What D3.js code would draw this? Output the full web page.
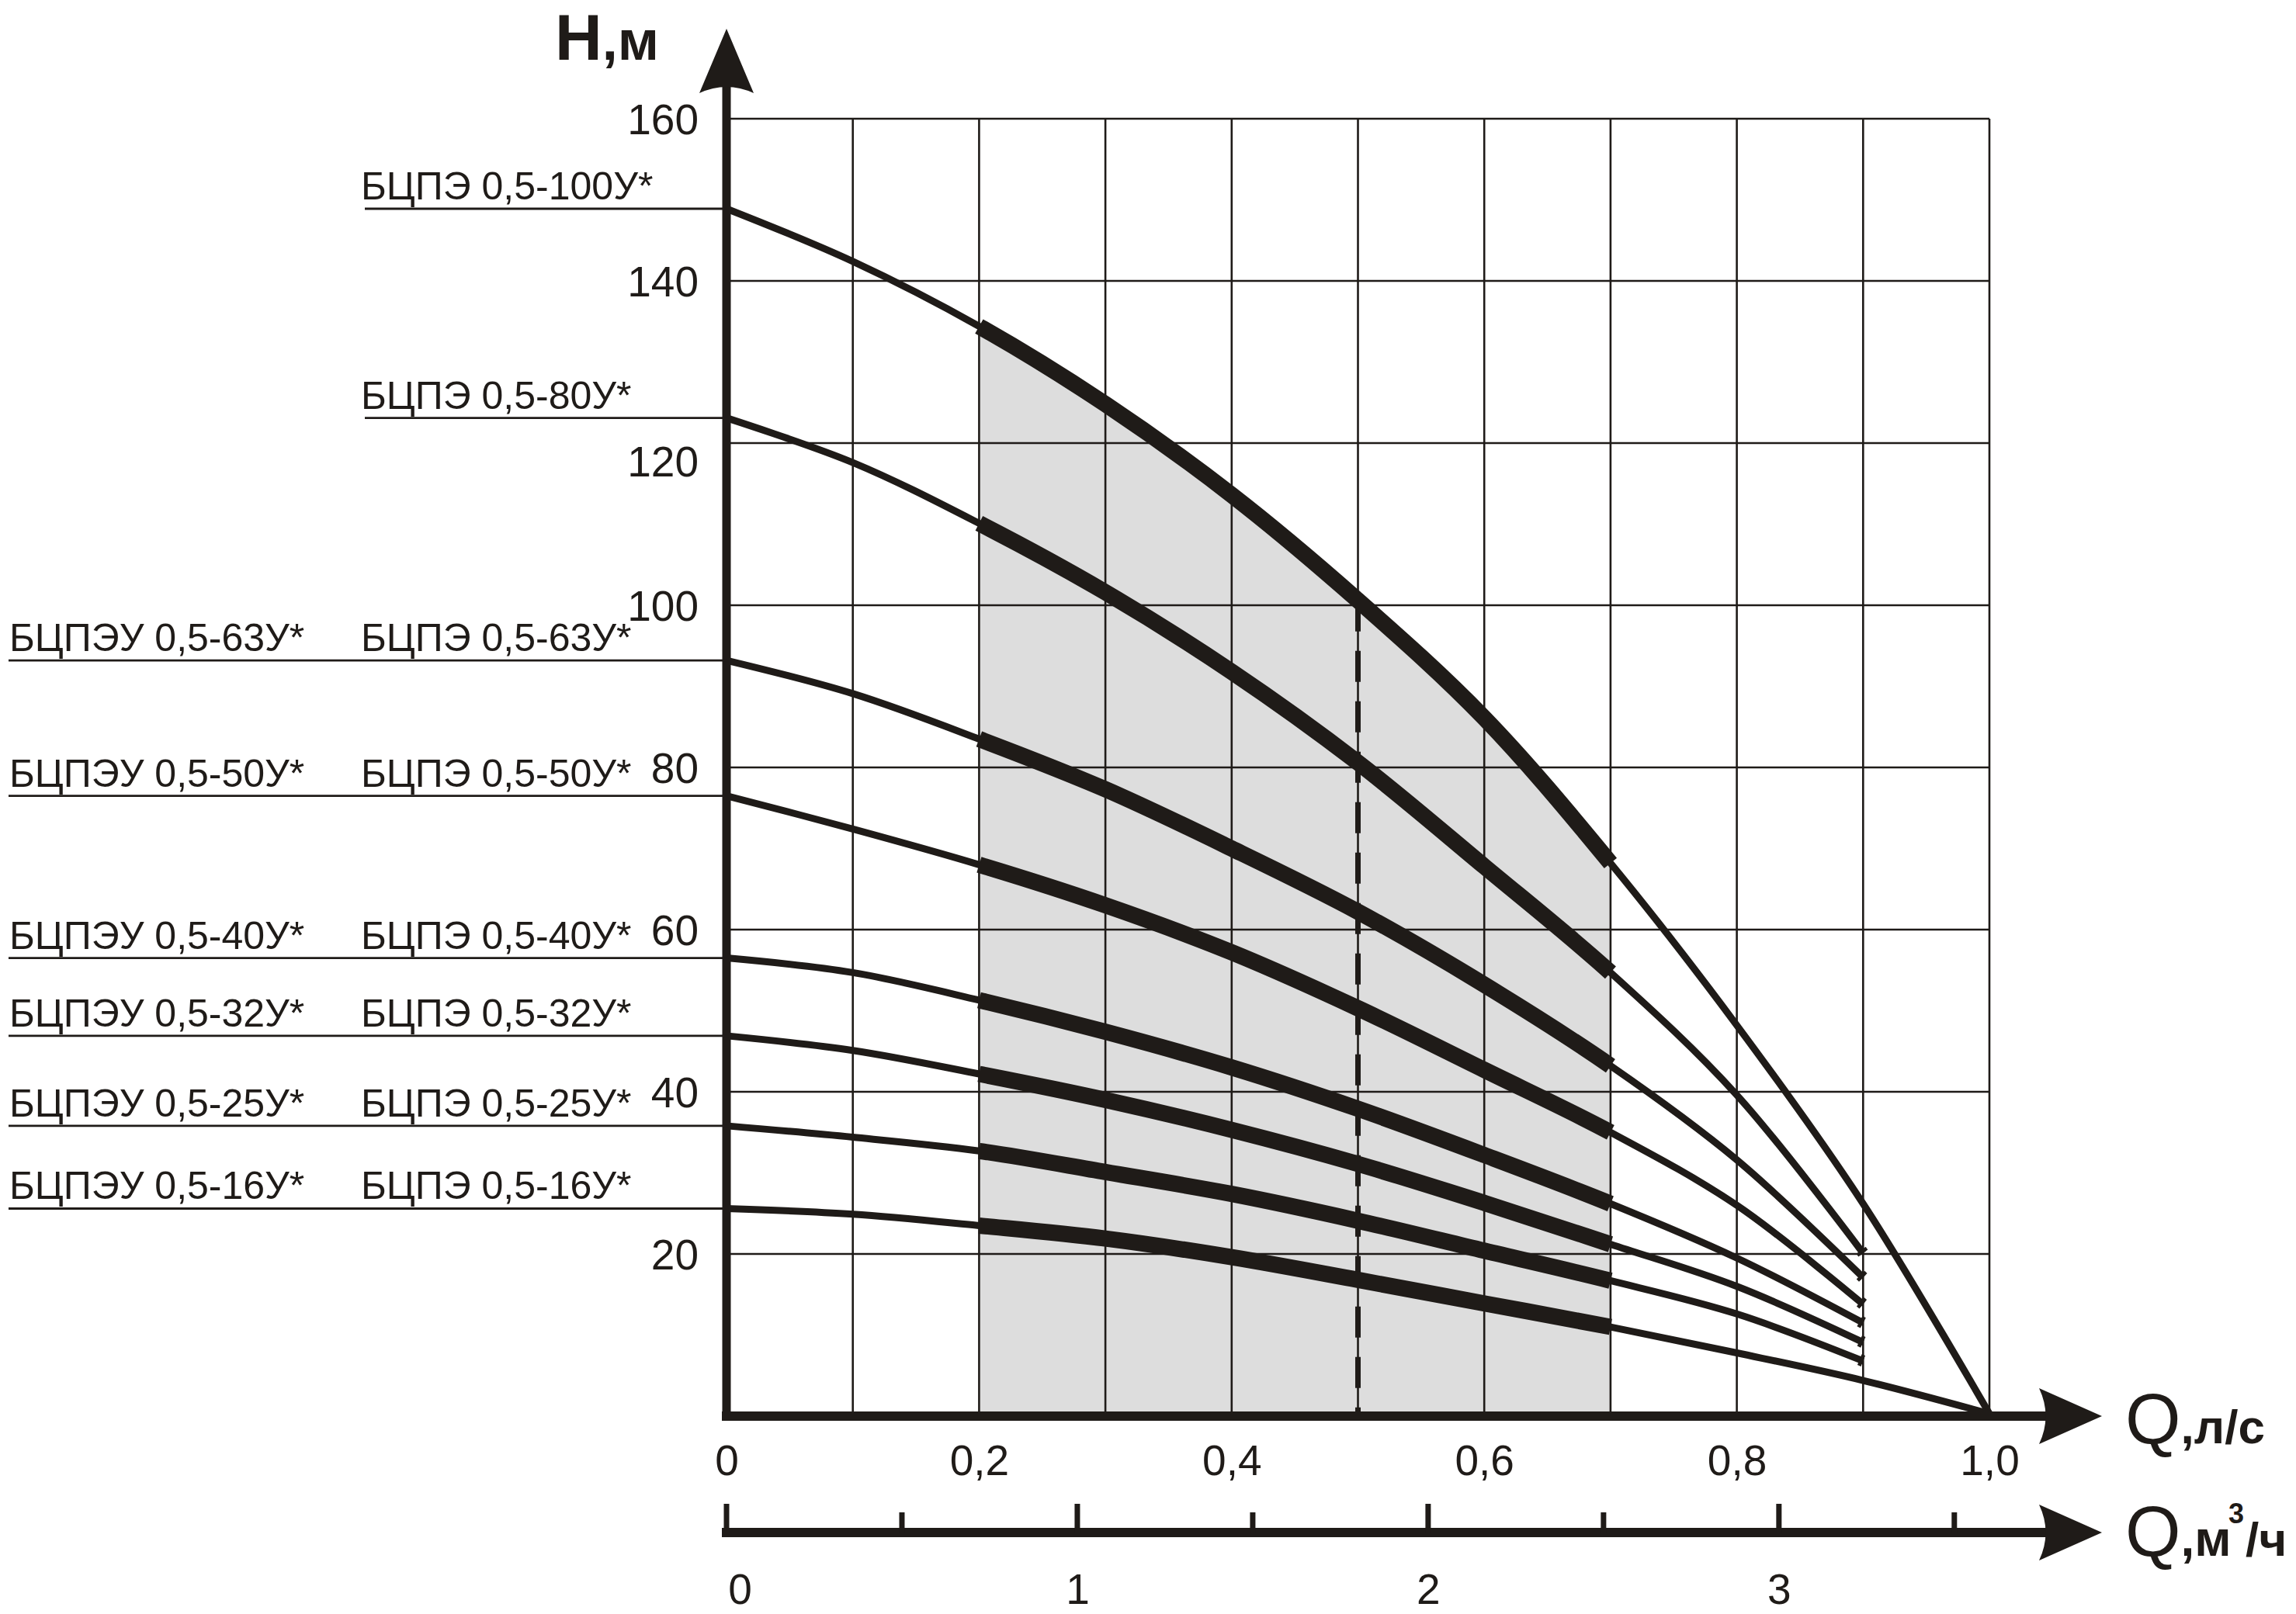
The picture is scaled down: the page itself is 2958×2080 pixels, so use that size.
<!DOCTYPE html>
<html><head><meta charset="utf-8">
<script src="https://cdn.jsdelivr.net/npm/d3@7"></script>
<style>
html,body{margin:0;padding:0;background:#fff}
svg{display:block}
text{font-family:"Liberation Sans",Arial,sans-serif;fill:#1f1b18}
</style>
</head><body>
<svg id="c" width="2958" height="2080"></svg>
<script>
// ---------- data ----------
const flowLps = [0, 0.1, 0.2, 0.3, 0.4, 0.5, 0.6, 0.7, 0.8, 0.9, 1.0];
const head100 = [148.9, 142.4, 134.4, 124.8, 113.6, 100.6, 86.1, 68.2, 48.2, 26.2, 0.3];
const head80  = [123.1, 117.6, 110.1, 101.6, 91.8, 80.6, 67.8, 54.7, 39.6, 20.1];
const head63  = [93.2, 89.1, 83.5, 77.3, 70.0, 62.2, 53.2, 43.2, 31.6, 17.1];
const head50  = [76.5, 72.4, 68.0, 63.0, 57.2, 50.3, 42.7, 35.0, 26.0, 13.8];
const head40  = [56.5, 54.7, 51.3, 47.4, 43.0, 37.9, 32.2, 26.2, 19.5, 11.5];
const head32  = [46.9, 45.1, 42.2, 39.0, 35.3, 31.1, 26.3, 21.2, 16.0, 9.1];
const head25  = [35.8, 34.4, 32.7, 30.1, 27.4, 24.1, 20.4, 16.7, 12.6, 6.8];
const head16  = [25.6, 24.9, 23.5, 21.9, 19.6, 16.8, 13.9, 11.0, 7.8, 4.4, 0.3];
const seriesHeads = [head100, head80, head63, head50, head40, head32, head25, head16];
const labelsBCPE  = ["БЦПЭ 0,5-100У*", "БЦПЭ 0,5-80У*", "БЦПЭ 0,5-63У*", "БЦПЭ 0,5-50У*",
                     "БЦПЭ 0,5-40У*", "БЦПЭ 0,5-32У*", "БЦПЭ 0,5-25У*", "БЦПЭ 0,5-16У*"];
const labelsBCPEU = [null, null, "БЦПЭУ 0,5-63У*", "БЦПЭУ 0,5-50У*",
                     "БЦПЭУ 0,5-40У*", "БЦПЭУ 0,5-32У*", "БЦПЭУ 0,5-25У*", "БЦПЭУ 0,5-16У*"];
const headTicks = [20, 40, 60, 80, 100, 120, 140, 160];
const flowTicks = [0, 0.2, 0.4, 0.6, 0.8, 1.0];
const flowTickLabels = ["0", "0,2", "0,4", "0,6", "0,8", "1,0"];
const flowGrid = [0.1, 0.2, 0.3, 0.4, 0.5, 0.6, 0.7, 0.8, 0.9, 1.0];
const m3Major = [0, 1, 2, 3];
const m3Minor = [0.5, 1.5, 2.5, 3.5];
const workZone = [0.2, 0.7];
const nominalFlow = 0.5;

// ---------- layout ----------
const ink = "#1f1b18";
const svg = d3.select("#c");
const x = d3.scaleLinear().domain([0, 1]).range([936, 2563]);
const y = d3.scaleLinear().domain([0, 160]).range([1825, 153]);
const xm3 = d3.scaleLinear().domain([0, 3.6]).range([936, 2563]);

const gShade = svg.append("g");
const gGrid = svg.append("g");
const gDash = svg.append("g");
const gCurves = svg.append("g");
const gAxes = svg.append("g");
const gText = svg.append("g");

// grid
gGrid.selectAll("line.h").data(headTicks).join("line")
  .attr("x1", x(0)).attr("x2", x(1)).attr("y1", d => y(d)).attr("y2", d => y(d))
  .attr("stroke", ink).attr("stroke-width", 2.6);
gGrid.selectAll("line.v").data(flowGrid).join("line")
  .attr("x1", d => x(d)).attr("x2", d => x(d)).attr("y1", y(0)).attr("y2", y(160))
  .attr("stroke", ink).attr("stroke-width", 2.6);

// curves
const line = d3.line().x(d => x(d[0])).y(d => y(d[1])).curve(d3.curveCatmullRom.alpha(0.5));
function lenAtX(node, xt) {
  let lo = 0, hi = node.getTotalLength();
  for (let i = 0; i < 40; i++) {
    const m = (lo + hi) / 2;
    if (node.getPointAtLength(m).x < xt) lo = m; else hi = m;
  }
  return (lo + hi) / 2;
}
let topPath = null, topLa = 0, topLb = 0;
seriesHeads.forEach((heads, si) => {
  const pts = heads.map((h, i) => [flowLps[i], h]);
  const d = line(pts);
  const thin = gCurves.append("path").attr("d", d).attr("fill", "none")
    .attr("stroke", ink).attr("stroke-width", 9).attr("stroke-linecap", "butt").attr("stroke-linejoin", "round");
  const node = thin.node();
  const total = node.getTotalLength();
  const la = lenAtX(node, x(workZone[0]));
  const lb = lenAtX(node, x(workZone[1]));
  gCurves.append("path").attr("d", d).attr("fill", "none")
    .attr("stroke", ink).attr("stroke-width", 21).attr("stroke-linecap", "butt")
    .attr("stroke-dasharray", `0,${la},${lb - la},${total + 50}`);
  if (heads.length < flowLps.length) {
    gCurves.append("path").attr("d", d).attr("fill", "none")
      .attr("stroke", ink).attr("stroke-width", 15).attr("stroke-linecap", "butt")
      .attr("stroke-dasharray", `0,${total - 5},5,${total + 50}`);
  }
  if (si === 0) { topPath = node; topLa = la; topLb = lb; }
});

// working zone shading under top curve
{
  const poly = [];
  const n = 80;
  for (let i = 0; i <= n; i++) {
    const p = topPath.getPointAtLength(topLa + (topLb - topLa) * i / n);
    poly.push([p.x, p.y]);
  }
  poly.push([x(workZone[1]), y(0)]);
  poly.push([x(workZone[0]), y(0)]);
  gShade.append("path").attr("d", "M" + poly.map(p => p.join(",")).join("L") + "Z")
    .attr("fill", "#dddddd");
}

// nominal flow dashed line
{
  const len = lenAtX(topPath, x(nominalFlow));
  const py = topPath.getPointAtLength(len).y;
  gDash.append("line").attr("x1", x(nominalFlow)).attr("x2", x(nominalFlow))
    .attr("y1", py).attr("y2", y(0))
    .attr("stroke", ink).attr("stroke-width", 7).attr("stroke-dasharray", "40,25");
}

// axes lines and arrows
gAxes.append("line").attr("x1", x(0)).attr("x2", x(0)).attr("y1", y(0) + 6).attr("y2", 112)
  .attr("stroke", ink).attr("stroke-width", 11);
gAxes.append("path").attr("d", `M${x(0)},37 L${x(0) + 35},120 Q${x(0)},104 ${x(0) - 35},120 Z`).attr("fill", ink);
gAxes.append("line").attr("x1", x(0) - 6).attr("x2", 2645).attr("y1", y(0)).attr("y2", y(0))
  .attr("stroke", ink).attr("stroke-width", 12);
gAxes.append("path").attr("d", `M2708,${y(0)} L2627,${y(0) - 36} Q2644,${y(0)} 2627,${y(0) + 36} Z`).attr("fill", ink);
const yM3 = 1975;
gAxes.append("line").attr("x1", x(0) - 6).attr("x2", 2645).attr("y1", yM3).attr("y2", yM3)
  .attr("stroke", ink).attr("stroke-width", 12);
gAxes.append("path").attr("d", `M2708,${yM3} L2627,${yM3 - 36} Q2644,${yM3} 2627,${yM3 + 36} Z`).attr("fill", ink);
gAxes.selectAll("line.mj").data(m3Major).join("line")
  .attr("x1", d => xm3(d)).attr("x2", d => xm3(d)).attr("y1", yM3).attr("y2", 1938)
  .attr("stroke", ink).attr("stroke-width", 7);
gAxes.selectAll("line.mn").data(m3Minor).join("line")
  .attr("x1", d => xm3(d)).attr("x2", d => xm3(d)).attr("y1", yM3).attr("y2", 1949)
  .attr("stroke", ink).attr("stroke-width", 7);

// tick labels via d3 axes
const ax = gText.append("g").attr("transform", `translate(${x(0)},0)`)
  .call(d3.axisLeft(y).tickValues(headTicks).tickSize(0).tickPadding(36).tickFormat(d3.format("d")));
ax.select(".domain").remove();
ax.selectAll("text").attr("font-size", 55).attr("font-family", null).attr("fill", ink)
  .attr("dy", d => d === 120 ? "0.78em" : "0.35em");

const bx = gText.append("g").attr("transform", `translate(0,1882)`)
  .call(d3.axisBottom(x).tickValues(flowTicks).tickSize(0).tickFormat((d, i) => flowTickLabels[i]));
bx.select(".domain").remove();
bx.selectAll("text").attr("font-size", 55).attr("font-family", null).attr("fill", ink)
  .attr("y", 0).attr("dy", "0.35em");

const mx = gText.append("g").attr("transform", `translate(0,2048)`)
  .call(d3.axisBottom(xm3).tickValues(m3Major).tickSize(0).tickFormat(d3.format("d")));
mx.select(".domain").remove();
mx.selectAll("text").attr("font-size", 55).attr("font-family", null).attr("fill", ink)
  .attr("y", 0).attr("dy", "0.35em").attr("dx", d => d === 0 ? 17 : 0);

// model labels with leader lines
seriesHeads.forEach((heads, i) => {
  const yy = y(heads[0]);
  const left = labelsBCPEU[i] ? 11 : 470;
  gText.append("line").attr("x1", left).attr("x2", x(0)).attr("y1", yy).attr("y2", yy)
    .attr("stroke", ink).attr("stroke-width", 2.8);
  gText.append("text").attr("x", 465).attr("y", yy - 12).attr("font-size", 50).text(labelsBCPE[i]);
  if (labelsBCPEU[i]) {
    gText.append("text").attr("x", 12).attr("y", yy - 12).attr("font-size", 50).text(labelsBCPEU[i]);
  }
});

// axis titles
const tH = gText.append("text").attr("x", 715).attr("y", 77).attr("font-weight", "bold");
tH.append("tspan").attr("font-size", 84).text("Н");
tH.append("tspan").attr("font-size", 72).text(",м");

const tQ1 = gText.append("text").attr("x", 2738).attr("y", 1860);
tQ1.append("tspan").attr("font-size", 92).text("Q");
tQ1.append("tspan").attr("font-size", 62).attr("font-weight", "bold").text(",л/с");

const tQ2 = gText.append("text").attr("x", 2738).attr("y", 2005);
tQ2.append("tspan").attr("font-size", 92).text("Q");
tQ2.append("tspan").attr("font-size", 64).attr("font-weight", "bold").text(",м");
tQ2.append("tspan").attr("x", 2871).attr("y", 1963).attr("font-size", 36).attr("font-weight", "bold").text("3");
tQ2.append("tspan").attr("x", 2893).attr("y", 2005).attr("font-size", 62).attr("font-weight", "bold").text("/ч");
</script>
</body></html>
